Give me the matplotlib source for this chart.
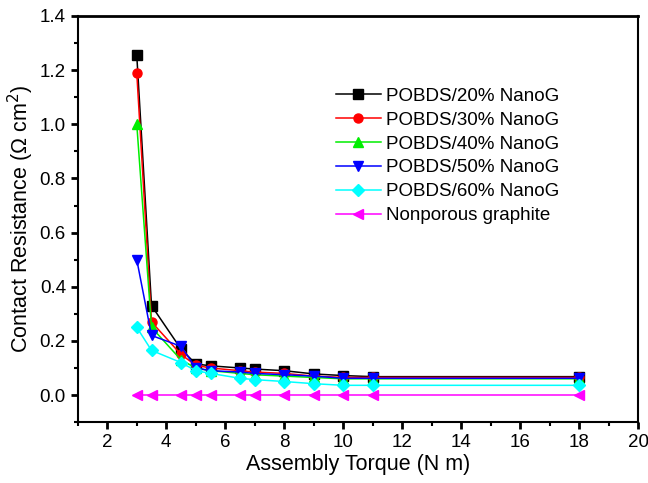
import matplotlib
matplotlib.use("Agg")
import matplotlib.pyplot as plt
from matplotlib.ticker import MultipleLocator

plt.rcParams['font.family'] = ['Liberation Sans', 'DejaVu Sans']

# Assembly torque (N m)
torque = [3, 3.5, 4.5, 5, 5.5, 6.5, 7, 8, 9, 10, 11, 18]

# Contact resistance (ohm cm2)
r20 = [1.255, 0.33, 0.17, 0.115, 0.108, 0.10, 0.096, 0.09, 0.078, 0.072, 0.068, 0.068]
r30 = [1.19, 0.27, 0.15, 0.11, 0.10, 0.09, 0.085, 0.08, 0.07, 0.065, 0.065, 0.065]
r40 = [1.0, 0.25, 0.13, 0.10, 0.09, 0.08, 0.075, 0.07, 0.065, 0.06, 0.06, 0.06]
r50 = [0.50, 0.22, 0.18, 0.10, 0.09, 0.085, 0.08, 0.075, 0.07, 0.062, 0.062, 0.062]
r60 = [0.25, 0.165, 0.12, 0.09, 0.08, 0.062, 0.057, 0.05, 0.042, 0.036, 0.036, 0.036]
rgraph = [0.0] * 12

series = [
    (r20, 'POBDS/20% NanoG', 'black', 's'),
    (r30, 'POBDS/30% NanoG', 'red', 'o'),
    (r40, 'POBDS/40% NanoG', '#00ee00', '^'),
    (r50, 'POBDS/50% NanoG', 'blue', 'v'),
    (r60, 'POBDS/60% NanoG', 'cyan', 'D'),
    (rgraph, 'Nonporous graphite', 'magenta', '<'),
]

fig = plt.figure(figsize=(6.48, 4.83), dpi=100)
ax = fig.add_axes([0.120, 0.126, 0.865, 0.841])

for vals, lab, col, mk in series:
    ms = 6 if mk == 'D' else 6.5
    ax.plot(torque, vals, color=col, marker=mk, markersize=ms, linewidth=1.1,
            label=lab)

ax.set_xlim(1, 20)
ax.set_ylim(-0.1, 1.4)
ax.xaxis.set_minor_locator(MultipleLocator(1))
ax.yaxis.set_minor_locator(MultipleLocator(0.1))
ax.set_xticks(range(2, 21, 2))
ax.set_yticks([0.0, 0.2, 0.4, 0.6, 0.8, 1.0, 1.2, 1.4])
ax.set_yticklabels(['0.0', '0.2', '0.4', '0.6', '0.8', '1.0', '1.2', '1.4'])
ax.tick_params(which='major', direction='out', length=5, width=2, labelsize=13.5)
ax.tick_params(which='minor', direction='out', length=3, width=1.5)
ax.spines['top'].set_linewidth(2)
for s in ['left', 'right', 'bottom']:
    ax.spines[s].set_linewidth(1.5)

ax.set_xlabel('Assembly Torque (N m)', fontsize=15.5, labelpad=2)
ax.set_ylabel('Contact Resistance (\u03a9 cm$^2$)', fontsize=15.5, labelpad=3)

ax.legend(loc='upper right', bbox_to_anchor=(0.89, 0.865), frameon=False,
          fontsize=13.5, handlelength=2.4, labelspacing=0.36, handletextpad=0.3)

fig.savefig('out.png', dpi=100)
